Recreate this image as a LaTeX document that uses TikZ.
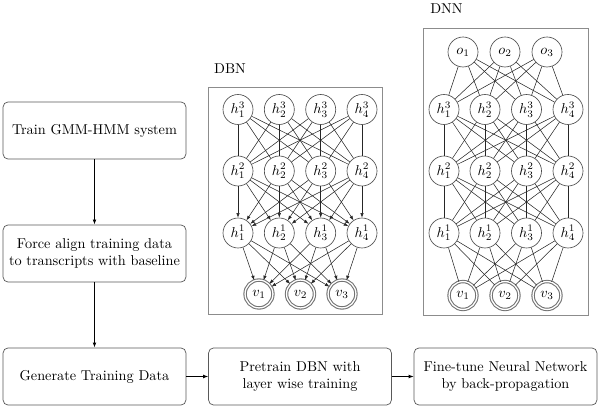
\documentclass[tikz,border=0pt]{standalone}
\usetikzlibrary{arrows.meta}
\begin{document}
\begin{tikzpicture}[x=0.7pt,y=-0.7pt,
  stepbox/.style={draw=black!65, line width=0.5pt, rounded corners=3.5pt,
    minimum width=128pt, minimum height=40pt, align=center, inner sep=2pt},
  unit/.style={circle, draw=black!70, line width=0.45pt, minimum size=21pt, inner sep=0pt},
  vis/.style={circle, draw=black!55, double, double distance=0.9pt, line width=0.75pt,
    minimum size=19.5pt, inner sep=0pt},
  frame/.style={draw=black!45, line width=0.6pt},
  link/.style={draw=black!85, line width=0.38pt},
  dlink/.style={link, -{Latex[length=3.2pt,width=2.4pt]}},
  flow/.style={draw=black, line width=0.6pt, -{Latex[length=3.5pt,width=2.6pt]}}]
\useasboundingbox (0,0) rectangle (600,408);

% flow boxes
\node[stepbox] (s1) at (94.5,130.5) {Train GMM-HMM system};
\node[stepbox] (s2) at (94.5,253.5) {Force align training data\\to transcripts with baseline};
\node[stepbox] (s3) at (94.5,376.5) {Generate Training Data};
\node[stepbox] (s4) at (300,376.5) {Pretrain DBN with\\layer wise training};
\node[stepbox] (s5) at (505.5,376.5) {Fine-tune Neural Network\\by back-propagation};
\draw[flow] (s1) -- (s2);
\draw[flow] (s2) -- (s3);
\draw[flow] (s3) -- (s4);
\draw[flow] (s4) -- (s5);

% DBN
\node (dbnlabel) at (230,69) {DBN};
\draw[frame] (208,87) rectangle (382,314);
\foreach \i/\x in {1/238,2/279.3,3/320.7,4/362}{
  \node[unit] (b3\i) at (\x,109.5) {$h^3_\i$};
  \node[unit] (b2\i) at (\x,171) {$h^2_\i$};
  \node[unit] (b1\i) at (\x,233) {$h^1_\i$};
}
\foreach \i/\x in {1/259,2/300.5,3/342}{
  \node[vis] (bv\i) at (\x,294) {$v_\i$};
}
\foreach \i in {1,...,4}{
  \foreach \j in {1,...,4}{
    \draw[link] (b3\i) -- (b2\j);
    \draw[dlink] (b2\i) -- (b1\j);
  }
  \foreach \j in {1,2,3}{
    \draw[dlink] (b1\i) -- (bv\j);
  }
}

% DNN
\node (dnnlabel) at (446.5,9) {DNN};
\draw[frame] (423,28) rectangle (588,315);
\foreach \i/\x in {1/444,2/485,3/526.5,4/568}{
  \node[unit] (d3\i) at (\x,109.5) {$h^3_\i$};
  \node[unit] (d2\i) at (\x,171) {$h^2_\i$};
  \node[unit] (d1\i) at (\x,233) {$h^1_\i$};
}
\foreach \i/\x in {1/463,2/505,3/547}{
  \node[unit] (do\i) at (\x,52) {$o_\i$};
  \node[vis] (dv\i) at (\x,295.5) {$v_\i$};
}
\foreach \i in {1,...,4}{
  \foreach \j in {1,...,4}{
    \draw[link] (d3\i) -- (d2\j);
    \draw[link] (d2\i) -- (d1\j);
  }
  \foreach \j in {1,2,3}{
    \draw[link] (do\j) -- (d3\i);
    \draw[link] (d1\i) -- (dv\j);
  }
}
\end{tikzpicture}
\end{document}
